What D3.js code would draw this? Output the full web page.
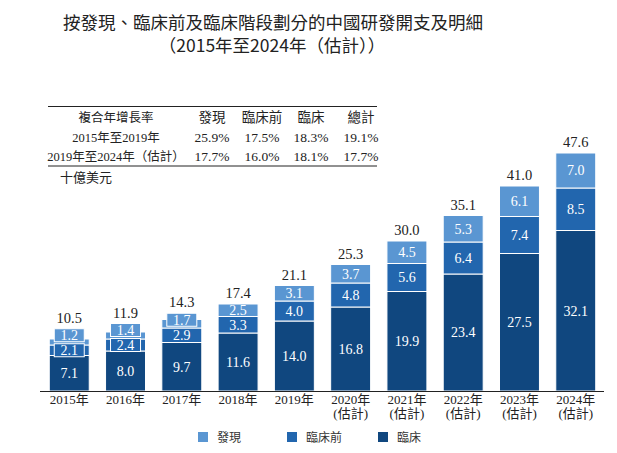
<!DOCTYPE html>
<html>
<head>
<meta charset="utf-8">
<script src="https://cdn.jsdelivr.net/npm/d3@7"></script>
<style>
  body { margin: 0; background: #fff; }
</style>
</head>
<body>
<script>
var W = 617, H = 453;

// data
var years = ["2015", "2016", "2017", "2018", "2019", "2020", "2021", "2022", "2023", "2024"];
var estimated = [false, false, false, false, false, true, true, true, true, true];
var clinical = [7.1, 8.0, 9.7, 11.6, 14.0, 16.8, 19.9, 23.4, 27.5, 32.1];
var preclinical = [2.1, 2.4, 2.9, 3.3, 4.0, 4.8, 5.6, 6.4, 7.4, 8.5];
var discovery = [1.2, 1.4, 1.7, 2.5, 3.1, 3.7, 4.5, 5.3, 6.1, 7.0];
var totals = [10.5, 11.9, 14.3, 17.4, 21.1, 25.3, 30.0, 35.1, 41.0, 47.6];

var seriesKeys = ["clinical", "preclinical", "discovery"];
var seriesNames = {discovery: "發現", preclinical: "臨床前", clinical: "臨床"};
var colors = {discovery: "#5a96d2", preclinical: "#2266ae", clinical: "#10477f"};

var cagrHeader = ["複合年增長率", "發現", "臨床前", "臨床", "總計"];
var cagrRows = [
  ["2015年至2019年", "25.9%", "17.5%", "18.3%", "19.1%"],
  ["2019年至2024年（估計）", "17.7%", "16.0%", "18.1%", "17.7%"]
];

var table = years.map(function (y, i) {
  return {year: y, est: estimated[i], clinical: clinical[i], preclinical: preclinical[i], discovery: discovery[i], total: totals[i]};
});

var serif = "'Liberation Serif', 'Times New Roman', 'Noto Sans CJK TC', serif";
var sans = "'Noto Sans CJK TC', 'Noto Sans', sans-serif";

var svg = d3.select("body").append("svg")
    .attr("width", W)
    .attr("height", H);

// title
svg.append("text")
    .attr("x", 273).attr("y", 29)
    .attr("text-anchor", "middle")
    .attr("font-family", sans).attr("font-size", "17.5px")
    .attr("fill", "#222")
    .text("按發現、臨床前及臨床階段劃分的中國研發開支及明細");
svg.append("text")
    .attr("x", 272).attr("y", 52)
    .attr("text-anchor", "middle")
    .attr("font-family", sans).attr("font-size", "17.5px")
    .attr("fill", "#222")
    .text("（2015年至2024年（估計））");

// cagr table
var colX = [116, 212, 262, 311, 361];
svg.append("line").attr("x1", 48).attr("x2", 377).attr("y1", 106.5).attr("y2", 106.5)
    .attr("stroke", "#222").attr("stroke-width", 1);
svg.append("line").attr("x1", 48).attr("x2", 377).attr("y1", 166).attr("y2", 166)
    .attr("stroke", "#222").attr("stroke-width", 1);

var tableRows = [cagrHeader].concat(cagrRows);
tableRows.forEach(function (row, r) {
  svg.append("g").selectAll("text")
    .data(row)
    .enter()
    .append("text")
    .attr("x", function (d, i) { return colX[i]; })
    .attr("y", 122 + r * 19.5)
    .attr("text-anchor", "middle")
    .attr("font-family", serif)
    .attr("font-size", function (d, i) { return i === 0 ? "12.5px" : "13.5px"; })
    .attr("fill", "#222")
    .text(function (d) { return d; });
});

svg.append("text")
    .attr("x", 60).attr("y", 182)
    .attr("font-family", serif).attr("font-size", "13px")
    .attr("fill", "#222")
    .text("十億美元");

// scales
var x = d3.scaleBand()
    .domain(years)
    .range([41, 604])
    .paddingInner(0.29)
    .paddingOuter(0.147);

var y = d3.scaleLinear()
    .domain([0, 47.6])
    .range([391, 153]);

var stack = d3.stack().keys(seriesKeys);
var stacked = stack(table);

var layers = svg.selectAll(".layer")
    .data(stacked)
    .enter()
    .append("g")
    .attr("class", "layer")
    .attr("fill", function (d) { return colors[d.key]; });

layers.selectAll("rect")
    .data(function (d) { return d; })
    .enter()
    .append("rect")
    .attr("x", function (d) { return x(d.data.year); })
    .attr("y", function (d) { return y(d[1]); })
    .attr("width", x.bandwidth())
    .attr("height", function (d) { return y(d[0]) - y(d[1]); })
    .attr("stroke", "#fff")
    .attr("stroke-width", 1);

// segment labels, with small boxes pushed up where the segment is too thin
var boxH = 13, boxW = 30, gap = 2, minSeg = 12.25;
var labelG = svg.append("g");
table.forEach(function (d, i) {
  var cx = x(d.year) + x.bandwidth() / 2;
  var limit = Infinity;
  var topMost = y(d.total);
  seriesKeys.forEach(function (k, s) {
    var seg = stacked[s][i];
    var y0 = y(seg[0]), y1 = y(seg[1]);
    var cy = (y0 + y1) / 2;
    var h = y0 - y1;
    if (h < minSeg) {
      var bottom = Math.min(cy + boxH / 2, limit - gap);
      cy = bottom - boxH / 2;
      labelG.append("rect")
          .attr("x", cx - boxW / 2)
          .attr("y", cy - boxH / 2)
          .attr("width", boxW)
          .attr("height", boxH)
          .attr("fill", colors[k])
          .attr("stroke", "#fff")
          .attr("stroke-width", 1);
      limit = cy - boxH / 2;
      topMost = Math.min(topMost, limit);
    } else {
      limit = Math.min(limit, cy - 7);
    }
    labelG.append("text")
        .attr("x", cx)
        .attr("y", cy + 4.8)
        .attr("text-anchor", "middle")
        .attr("font-family", serif)
        .attr("font-size", "14px")
        .attr("fill", "#fff")
        .text(d[k].toFixed(1));
  });
  labelG.append("text")
      .attr("x", cx)
      .attr("y", topMost - 6)
      .attr("text-anchor", "middle")
      .attr("font-family", serif)
      .attr("font-size", "14.5px")
      .attr("fill", "#222")
      .text(d.total.toFixed(1));
});

// x axis
svg.append("line")
    .attr("x1", 40).attr("x2", 604)
    .attr("y1", 391.5).attr("y2", 391.5)
    .attr("stroke", "#222").attr("stroke-width", 1.2);

var xlab = svg.append("g").selectAll("g")
    .data(table)
    .enter()
    .append("g")
    .attr("transform", function (d) { return "translate(" + (x(d.year) + x.bandwidth() / 2) + ",0)"; });

xlab.append("text")
    .attr("y", 404)
    .attr("text-anchor", "middle")
    .attr("font-family", serif)
    .attr("font-size", "13px")
    .attr("fill", "#222")
    .text(function (d) { return d.year + "年"; });

xlab.filter(function (d) { return d.est; })
    .append("text")
    .attr("y", 418)
    .attr("text-anchor", "middle")
    .attr("font-family", serif)
    .attr("font-size", "13px")
    .attr("fill", "#222")
    .text("(估計)");

// legend
var legendKeys = ["discovery", "preclinical", "clinical"];
var legendX = [198, 287, 378];
var legend = svg.append("g").selectAll("g")
    .data(legendKeys)
    .enter()
    .append("g")
    .attr("transform", function (d, i) { return "translate(" + legendX[i] + ",432)"; });

legend.append("rect")
    .attr("width", 10).attr("height", 10)
    .attr("fill", function (d) { return colors[d]; });

legend.append("text")
    .attr("x", 19).attr("y", 9.5)
    .attr("font-family", sans).attr("font-size", "12px")
    .attr("fill", "#333")
    .text(function (d) { return seriesNames[d]; });
</script>
</body>
</html>
